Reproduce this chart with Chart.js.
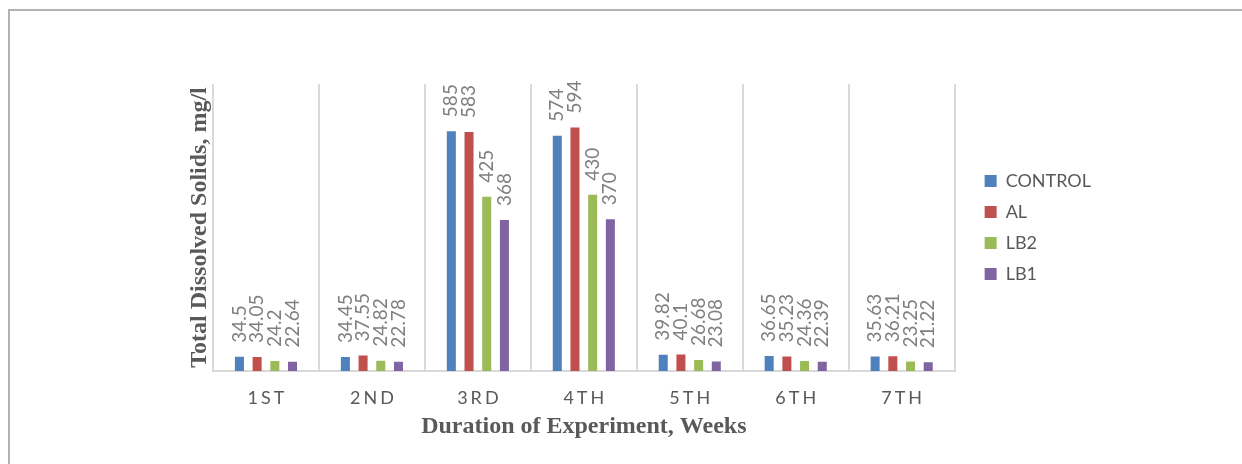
<!DOCTYPE html>
<html>
<head>
<meta charset="utf-8">
<script src="https://cdn.jsdelivr.net/npm/chart.js@4.4.1/dist/chart.umd.min.js"></script>
<style>
  html, body { margin: 0; padding: 0; background: #fff; overflow: hidden; }
  #wrap { position: relative; width: 1242px; height: 464px; }
  #frame { position: absolute; left: 8px; top: 9px; width: 1300px; height: 520px;
           border-top: 2px solid #b3b3b3; border-left: 2px solid #b3b3b3; box-sizing: border-box; }
  canvas { position: absolute; left: 0; top: 0; }
</style>
</head>
<body>
<div id="wrap">
  <div id="frame"></div>
  <canvas id="c" width="1242" height="464"></canvas>
</div>
<script>
// Weekly total dissolved solids (mg/l) for each treatment
const weeks   = ['1ST', '2ND', '3RD', '4TH', '5TH', '6TH', '7TH'];
const control = [34.5, 34.45, 585, 574, 39.82, 36.65, 35.63];
const al      = [34.05, 37.55, 583, 594, 40.1, 35.23, 36.21];
const lb2     = [24.2, 24.82, 425, 430, 26.68, 24.36, 23.25];
const lb1     = [22.64, 22.78, 368, 370, 23.08, 22.39, 21.22];

const TICK_SPACING = 3;

// Category axis whose tick labels are drawn letter-spaced
class SpacedCategoryScale extends Chart.CategoryScale {
  drawLabels(area) {
    const ctx = this.ctx;
    ctx.save();
    ctx.letterSpacing = TICK_SPACING + 'px';
    ctx.translate(TICK_SPACING / 2, 0);
    super.drawLabels(area);
    ctx.restore();
  }
}
SpacedCategoryScale.id = 'spacedCategory';
SpacedCategoryScale.defaults = Chart.CategoryScale.defaults;
Chart.register(SpacedCategoryScale);

// Rotated value labels above each bar
const valueLabels = {
  id: 'valueLabels',
  afterDatasetsDraw(chart) {
    const ctx = chart.ctx;
    ctx.save();
    ctx.font = '19px Lato';
    ctx.fillStyle = '#7f7f7f';
    ctx.textAlign = 'left';
    ctx.textBaseline = 'middle';
    chart.data.datasets.forEach((ds, i) => {
      chart.getDatasetMeta(i).data.forEach((bar, j) => {
        ctx.save();
        ctx.translate(bar.x, bar.y - 14);
        ctx.rotate(-Math.PI / 2);
        ctx.fillText(String(ds.data[j]), 0, 0);
        ctx.restore();
      });
    });
    ctx.restore();
  }
};

function build() {
  new Chart(document.getElementById('c'), {
    type: 'bar',
    data: {
      labels: weeks,
      datasets: [
        { label: 'CONTROL', data: control, backgroundColor: '#4f81bd' },
        { label: 'AL',      data: al,      backgroundColor: '#c0504d' },
        { label: 'LB2',     data: lb2,     backgroundColor: '#9bbb59' },
        { label: 'LB1',     data: lb1,     backgroundColor: '#8064a2' }
      ]
    },
    options: {
      responsive: false,
      animation: false,
      events: [],
      datasets: { bar: { categoryPercentage: 0.668, barPercentage: 0.51, borderWidth: 0 } },
      layout: { padding: { left: 181, top: 84, right: 141, bottom: 18.6 } },
      plugins: {
        tooltip: { enabled: false },
        legend: {
          position: 'right',
          align: 'center',
          fullSize: false,
          labels: {
            boxWidth: 12, boxHeight: 12, padding: 13,
            color: '#595959',
            font: { family: 'Lato', size: 18 }
          }
        }
      },
      scales: {
        x: {
          type: 'spacedCategory',
          offset: true,
          grid: { display: true, offset: true, color: '#d9d9d9', lineWidth: 2, drawTicks: false },
          border: { display: true, color: '#d9d9d9', width: 2 },
          ticks: { color: '#595959', font: { family: 'Lato', size: 18 }, padding: 16, maxRotation: 0, autoSkip: false },
          title: {
            display: true, text: 'Duration of Experiment, Weeks', color: '#595959',
            font: { family: 'Liberation Serif', size: 24, weight: 'bold' },
            padding: { top: 4, bottom: 4 }
          },
          afterFit(s) { s.height = 74.4; }
        },
        y: {
          min: 0, max: 700,
          grid: { display: false },
          border: { display: false },
          ticks: { display: false },
          title: {
            display: true, text: 'Total Dissolved Solids, mg/l', color: '#595959',
            font: { family: 'Liberation Serif', size: 24, weight: 'bold' },
            padding: { top: 4, bottom: 4 }
          },
          afterFit(s) { s.width = 32; }
        },
        gap: {
          type: 'linear',
          position: 'right',
          grid: { display: false },
          border: { display: false },
          ticks: { display: false },
          afterFit(s) { s.width = 17; }
        }
      }
    },
    plugins: [valueLabels]
  });
}

Promise.all([
  document.fonts.load('18px Lato'),
  document.fonts.load('bold 24px "Liberation Serif"')
]).then(build, build);
</script>
</body>
</html>
